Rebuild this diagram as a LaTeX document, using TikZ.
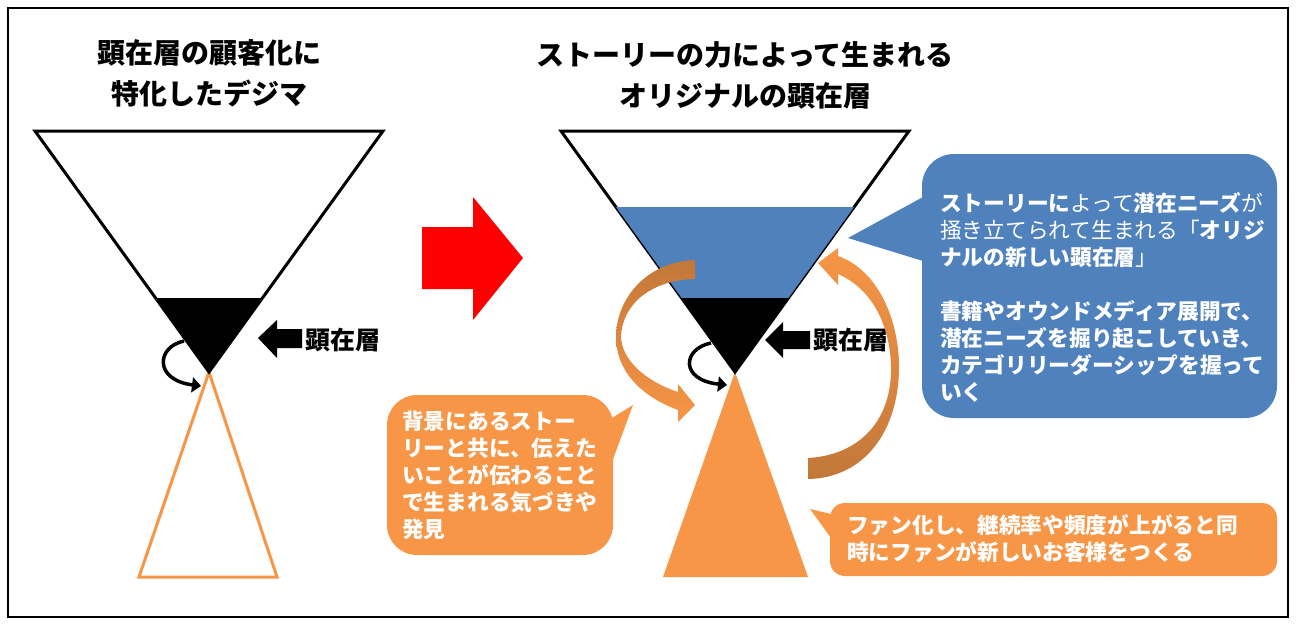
\documentclass[tikz,border=0pt]{standalone}
\usepackage{fontspec}
\setmainfont{Noto Sans CJK JP}
\usetikzlibrary{arrows.meta}
\definecolor{calloutblue}{HTML}{4F81BD}
\definecolor{fanorange}{HTML}{F79646}
\definecolor{fandark}{HTML}{C27839}

\begin{document}
\begin{tikzpicture}[x=1pt,y=-1pt,
  headline/.style={font=\fontsize{28}{41}\selectfont\bfseries, align=center},
  calltext/.style={font=\fontsize{21.7}{27}\selectfont, align=left, text=white, inner sep=0pt, anchor=north west},
  layerlabel/.style={font=\fontsize{25}{27}\selectfont\bfseries, inner sep=0pt, anchor=west},
  funnel/.style={draw=black, line width=3pt, fill=white},
  loopturn/.style={line width=3.5pt, -{Triangle[length=9pt,width=15pt]}}]
  \useasboundingbox (0,0) rectangle (1300,627);
  \draw[line width=2pt] (8,8) rectangle (1288,617);

  % titles
  \node[headline] (titleleft) at (209,73) {顕在層の顧客化に\\特化したデジマ};
  \node[headline] (titleright) at (745,75) {ストーリーの力によって生まれる\\オリジナルの顕在層};

  % left funnel
  \draw[fanorange, line width=3pt] (209,372) -- (277,577) -- (139,577) -- cycle;
  \draw[funnel] (35,131) -- (383,131) -- (209,372) -- cycle;
  \fill (155.6,298) -- (262.4,298) -- (209,372) -- cycle;
  \fill (258,338) -- (277,320) -- (277,329) -- (302,329) -- (302,348) -- (277,348) -- (277,358) -- cycle;
  \node[layerlabel] (layerleft) at (305,340) {顕在層};
  \draw[loopturn] (184,341) .. controls (156,347) and (154,380) .. (201,386);

  % red arrow
  \fill[red] (422,227) -- (473,227) -- (473,197) -- (523,258) -- (473,320) -- (473,289) -- (422,289) -- cycle;

  % right funnel
  \fill[fanorange] (735,372) -- (808,577) -- (663,577) -- cycle;
  \draw[funnel] (561,131) -- (909,131) -- (735,372) -- cycle;
  \fill[calloutblue] (616,207) -- (854,207) -- (788.4,298) -- (681.6,298) -- cycle;
  \fill (681.6,298) -- (788.4,298) -- (735,372) -- cycle;
  \fill (765,340) -- (783,322) -- (783,331) -- (810,331) -- (810,349) -- (783,349) -- (783,358) -- cycle;
  \node[layerlabel] (layerright) at (813,340) {顕在層};
  \draw[loopturn] (711,343) .. controls (682,349) and (680,380) .. (727,385);

  % curved orange arrows
  \shade[top color=fandark, middle color=fanorange, bottom color=fanorange]
    (695,260) .. controls (645,262) and (616,300) .. (616,337)
    .. controls (616,370) and (640,396) .. (678,410)
    -- (678,422) -- (695,405) -- (678,384) -- (678,392)
    .. controls (645,381) and (622,360) .. (621,337)
    .. controls (622,305) and (650,280) .. (695,279) -- cycle;
  \shade[top color=fanorange, middle color=fanorange, bottom color=fandark]
    (808,458) .. controls (860,455) and (892,420) .. (891,367)
    .. controls (890,322) and (870,288) .. (838,274)
    -- (838,285) -- (818,263) -- (838,248) -- (838,256)
    .. controls (878,270) and (899,320) .. (899,367)
    .. controls (899,430) and (865,478) .. (808,479) -- cycle;

  % callouts
  \fill[calloutblue, rounded corners=32pt] (922,154) rectangle (1277,418);
  \fill[calloutblue] (923,197) -- (848,238) -- (923,261) -- cycle;
  \node[calltext] (needs) at (940,192) {{\bfseries ストーリーに}よって{\bfseries 潜在ニーズ}が\\
    掻き立てられて生まれる「{\bfseries オリジ}\\
    {\bfseries ナルの新しい顕在層}」\\[27pt]
    {\bfseries 書籍やオウンドメディア展開で、}\\
    {\bfseries 潜在ニーズを掘り起こしていき、}\\
    {\bfseries カテゴリリーダーシップを握って}\\
    {\bfseries いく}};

  \fill[fanorange, rounded corners=30pt] (387,395) rectangle (613,555);
  \fill[fanorange] (612,418) -- (633,405) -- (612,462) -- cycle;
  \node[calltext, font=\fontsize{21.7}{27}\selectfont\bfseries] (story) at (402,411) {背景にあるストー\\リーと共に、伝えた\\いことが伝わること\\で生まれる気づきや\\発見};

  \fill[fanorange, rounded corners=15pt] (830,503) rectangle (1277,576);
  \fill[fanorange] (831,514) -- (810,509) -- (831,538) -- cycle;
  \node[calltext, font=\fontsize{21.7}{27}\selectfont\bfseries] (fans) at (847,514) {ファン化し、継続率や頻度が上がると同\\時にファンが新しいお客様をつくる};
\end{tikzpicture}
\end{document}
